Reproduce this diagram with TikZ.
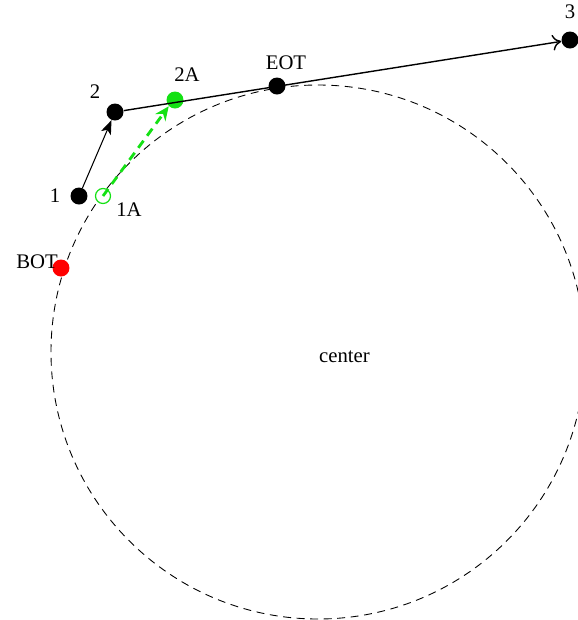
\documentclass[tikz,border=0pt]{standalone}
\usepackage{fontspec}
\setmainfont{Liberation Serif}
\usetikzlibrary{arrows.meta}
\definecolor{ptgreen}{RGB}{20,225,20}
\tikzset{
    dot/.style={circle, fill=black, inner sep=0pt, minimum size=0.34cm},
    lbl/.style={font=\fontsize{11.8}{13}\selectfont, inner sep=1pt},
}
\begin{document}
\begin{tikzpicture}[x=0.02cm, y=-0.02cm]
        \clip (0,0) rectangle (578,620);
        \coordinate (c) at (318,352);
        \draw [dash pattern=on 4.5pt off 3.2pt, line width=0.5pt] (c) circle (267);
        \node [lbl, anchor=west] (clbl) at (317,357) {center};
        % track points
        \node [dot] (p1) at (79,196) {};
        \node [dot] (p2) at (115,112) {};
        \node [dot] (p3) at (570,40) {};
        \node [dot] (eot) at (277,86) {};
        \node [dot, fill=red] (bot) at (61,268) {};
        \node [dot, fill=ptgreen] (p2a) at (175,100) {};
        \node [dot, fill=white, draw=ptgreen, line width=0.7pt, minimum size=0.3cm] (p1a) at (103,196) {};
        \draw [-{Stealth[length=8pt,width=6pt,inset=2pt]}, line width=0.6pt] (p1) -- (p2);
        \draw [-{To[length=5pt,width=9pt]}, line width=0.8pt] (p2) -- (p3);
        \draw [-{Stealth[length=8pt,width=7pt]}, ptgreen, line width=1.6pt, dash pattern=on 5pt off 3.5pt] (p1a.center) -- (p2a.south west);
        % labels
        \node [lbl] (l1) at (55,196) {1};
        \node [lbl] (l2) at (95,92) {2};
        \node [lbl] (l3) at (570,12) {3};
        \node [lbl] (l2a) at (187,75) {2A};
        \node [lbl] (l1a) at (129,210) {1A};
        \node [lbl] (lbot) at (37,262) {BOT};
        \node [lbl] (leot) at (286,63) {EOT};
\end{tikzpicture}
\end{document}
